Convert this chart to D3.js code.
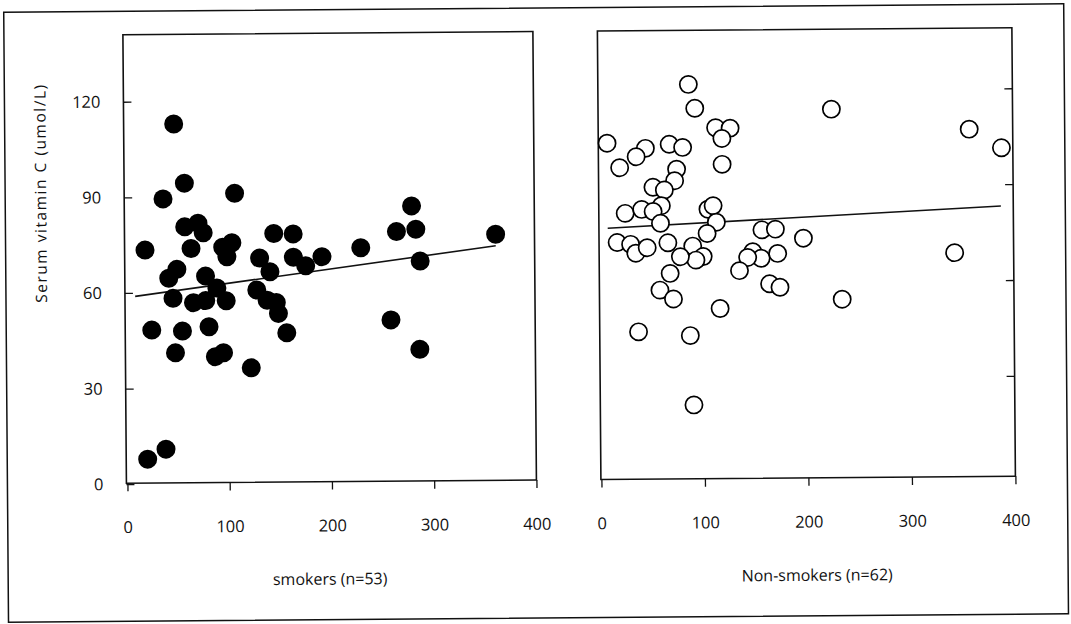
<!DOCTYPE html>
<html>
<head>
<meta charset="utf-8">
<script src="https://cdn.jsdelivr.net/npm/d3@7"></script>
<style>
body { margin: 0; background: #fff; }
svg text { font-family: 'Open Sans', sans-serif; fill: #111; }
</style>
</head>
<body>
<div id="chart"></div>
<script>
'use strict';

// smokers (n=53) - filled dots
var smokersX = [48, 58, 37, 107, 58, 71, 76, 145, 164, 19, 64, 95, 104, 99, 131, 141, 164, 176, 192,
                50, 42, 78, 89, 128, 46, 66, 78, 98, 138, 147, 149, 25, 55, 81, 157, 48, 87, 95, 122,
                20, 38, 280, 265, 284, 230, 288, 362, 259, 287];
var smokersY = [112.9, 94.3, 89.4, 91.0, 80.6, 81.7, 78.7, 78.3, 78.1, 73.4, 73.8, 74.1, 75.5, 71.1, 70.6,
                66.3, 70.8, 68.1, 70.9, 67.3, 64.5, 65.1, 61.3, 60.6, 58.2, 56.8, 57.4, 57.3, 57.4, 56.6,
                53.2, 48.3, 47.9, 49.2, 47.1, 41.1, 39.8, 41.0, 36.2, 7.8, 10.9, 86.6, 78.6, 79.3, 73.6,
                69.3, 77.5, 50.9, 41.6];
var smokersFitX = [9, 362];
var smokersFitY = [58.9, 73.9];

// non-smokers (n=62) - open circles
var nonSmokersX = [87, 93, 113, 127, 119, 8, 45, 36, 68, 81, 20, 119, 75, 73, 52, 63, 60, 25, 41, 52,
                   59, 105, 110, 113, 104, 157, 170, 197, 17, 30, 35, 46, 66, 90, 100, 93, 78, 148,
                   156, 143, 172, 135, 68, 164, 174, 58, 71, 116, 37, 87, 90, 225, 358, 389, 343, 234];
var nonSmokersY = [122.0, 114.5, 108.4, 108.2, 105.0, 103.8, 102.1, 99.5, 103.3, 102.3, 96.1, 96.9, 95.5,
                   91.9, 89.9, 89.0, 84.1, 81.8, 83.0, 82.3, 78.6, 82.9, 84.0, 78.8, 75.3, 76.3, 76.5,
                   73.6, 72.7, 72.1, 69.3, 71.0, 72.5, 71.4, 68.1, 67.0, 68.1, 69.5, 67.4, 67.7, 68.9,
                   63.6, 62.9, 59.4, 58.3, 57.7, 54.9, 51.8, 44.7, 43.4, 21.7, 113.9, 107.3, 101.4,
                   68.7, 54.4];
var nonSmokersFitX = [8, 388];
var nonSmokersFitY = [77.2, 83.2];

var xTicks = [0, 100, 200, 300, 400];
var yTicks = [0, 30, 60, 90, 120];
var yTicksRight = [30, 60, 90, 120];

var yTitle = 'Serum vitamin C (umol/L)';
var smokersTitle = 'smokers (n=53)';
var nonSmokersTitle = 'Non-smokers (n=62)';

var chart = {};
chart.w = 1071;
chart.h = 624;
chart.top = 31.5;
chart.bottom = 480;
chart.tilt = -0.45;      // the scan is slightly rotated

chart.appendSvg = function (div)
{
    return d3.select(div).append('svg')
        .attr('width', chart.w)
        .attr('height', chart.h);
};

chart.makePoints = function (xs, ys)
{
    var pts = [];
    for (var i = 0; i < xs.length; i++) {
        pts.push({'x': xs[i], 'y': ys[i]});
    }
    return pts;
};

chart.appendPanel = function (g, cfg)
{
    var xScale = d3.scaleLinear().domain([0, 400]).range([cfg.x0, cfg.x1]);
    var yScale = d3.scaleLinear().domain([0, 120]).range(cfg.yRange);

    // box
    g.append('rect')
        .attr('x', cfg.left)
        .attr('y', chart.top)
        .attr('width', cfg.x1 - cfg.left)
        .attr('height', chart.bottom - chart.top)
        .attr('fill', 'none')
        .attr('stroke', '#111')
        .attr('stroke-width', 1.6);

    // x axis, ticks pointing down
    var xAxisGroup = g.append('g')
        .attr('transform', 'translate(0,' + chart.bottom + ')')
        .call(d3.axisBottom(xScale).tickValues(xTicks).tickSize(8).tickPadding(30));
    xAxisGroup.select('.domain').remove();
    xAxisGroup.selectAll('line').attr('stroke', '#111').attr('stroke-width', 1.3);
    xAxisGroup.selectAll('text').attr('font-size', '16.5px').attr('fill', '#111');

    // y ticks, pointing inside the box
    var yAxisGroup;
    if (cfg.side == 'left') {
        yAxisGroup = g.append('g')
            .attr('transform', 'translate(' + cfg.left + ',0)')
            .call(d3.axisLeft(yScale).tickValues(yTicks).tickSize(-8).tickPadding(23));
        yAxisGroup.selectAll('text').attr('font-size', '16.5px').attr('fill', '#111');
    } else {
        yAxisGroup = g.append('g')
            .attr('transform', 'translate(' + cfg.x1 + ',0)')
            .call(d3.axisRight(yScale).tickValues(yTicksRight).tickSize(-8).tickFormat(''));
    }
    yAxisGroup.select('.domain').remove();
    yAxisGroup.selectAll('line').attr('stroke', '#111').attr('stroke-width', 1.3);

    // regression line
    var line = d3.line()
        .x(function (d) { return xScale(d.x); })
        .y(function (d) { return yScale(d.y); });
    g.append('path')
        .datum(chart.makePoints(cfg.fitX, cfg.fitY))
        .attr('d', line)
        .attr('fill', 'none')
        .attr('stroke', '#111')
        .attr('stroke-width', 1.6);

    // dots
    g.append('g').selectAll('circle')
        .data(chart.makePoints(cfg.xs, cfg.ys))
        .enter()
        .append('circle')
        .attr('cx', function (d) { return xScale(d.x); })
        .attr('cy', function (d) { return yScale(d.y); })
        .attr('r', cfg.filled ? 9.5 : 8.6)
        .attr('fill', cfg.filled ? '#000' : '#fff')
        .attr('stroke', '#000')
        .attr('stroke-width', cfg.filled ? 0 : 1.7);

    g.append('text')
        .attr('x', cfg.titleX)
        .attr('y', 583)
        .attr('text-anchor', 'middle')
        .attr('font-size', '16px')
        .text(cfg.title);
};

var svg = chart.appendSvg('#chart');
var g = svg.append('g')
    .attr('transform', 'rotate(' + chart.tilt + ',535,300)');

// outer frame
g.append('rect')
    .attr('x', 6)
    .attr('y', 8)
    .attr('width', 1060)
    .attr('height', 610)
    .attr('fill', 'none')
    .attr('stroke', '#111')
    .attr('stroke-width', 1.5);

chart.appendPanel(g, {side: 'left', left: 125, x0: 126, x1: 535, yRange: [481, 98.5],
    xs: smokersX, ys: smokersY, fitX: smokersFitX, fitY: smokersFitY, filled: true,
    title: smokersTitle, titleX: 328});

chart.appendPanel(g, {side: 'right', left: 599.5, x0: 600, x1: 1014, yRange: [475.5, 92],
    xs: nonSmokersX, ys: nonSmokersY, fitX: nonSmokersFitX, fitY: nonSmokersFitY, filled: false,
    title: nonSmokersTitle, titleX: 815});

g.append('text')
    .attr('transform', 'translate(41,190) rotate(-90)')
    .attr('text-anchor', 'middle')
    .attr('dominant-baseline', 'central')
    .attr('font-size', '15.5px')
    .attr('textLength', 218)
    .attr('lengthAdjust', 'spacing')
    .text(yTitle);
</script>
</body>
</html>
